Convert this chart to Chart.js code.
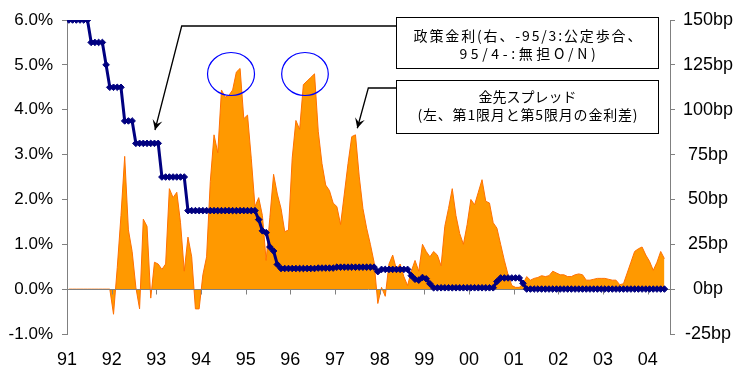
<!DOCTYPE html>
<html>
<head>
<meta charset="utf-8">
<script src="https://cdn.jsdelivr.net/npm/chart.js@4.4.1/dist/chart.umd.min.js"></script>
<style>
  html, body { margin: 0; padding: 0; background: #ffffff; }
  #wrap { width: 735px; height: 369px; }
</style>
</head>
<body>
<div id="wrap"><canvas id="c" width="735" height="369"></canvas></div>
<script>
// Monthly series, January 1991 through May 2004
const START_YEAR = 1991;
const yearTicks = [1991, 1992, 1993, 1994, 1995, 1996, 1997, 1998, 1999, 2000, 2001, 2002, 2003, 2004];
const yearLabels = ['91', '92', '93', '94', '95', '96', '97', '98', '99', '00', '01', '02', '03', '04'];
const leftTicks = [-1, 0, 1, 2, 3, 4, 5, 6];          // %
const rightTicks = [-25, 0, 25, 50, 75, 100, 125, 150]; // bp

// Policy rate (%): official discount rate to 95/3, uncollateralised O/N call rate from 95/4
const policyRate = [
  6.0, 6.0, 6.0, 6.0, 6.0, 6.0, 5.5, 5.5, 5.5, 5.5, 5.0, 4.5,
  4.5, 4.5, 4.5, 3.75, 3.75, 3.75, 3.25, 3.25, 3.25, 3.25, 3.25, 3.25,
  3.25, 2.5, 2.5, 2.5, 2.5, 2.5, 2.5, 2.5, 1.75, 1.75, 1.75, 1.75,
  1.75, 1.75, 1.75, 1.75, 1.75, 1.75, 1.75, 1.75, 1.75, 1.75, 1.75, 1.75,
  1.75, 1.75, 1.75, 1.55, 1.3, 1.26, 0.94, 0.85, 0.55, 0.46, 0.46, 0.46,
  0.46, 0.46, 0.46, 0.46, 0.46, 0.46, 0.46, 0.47, 0.47, 0.47, 0.47, 0.47,
  0.49, 0.49, 0.49, 0.49, 0.49, 0.49, 0.49, 0.49, 0.49, 0.49, 0.49, 0.39,
  0.44, 0.44, 0.44, 0.44, 0.44, 0.44, 0.44, 0.44, 0.3, 0.22, 0.2, 0.26,
  0.23, 0.12, 0.03, 0.03, 0.03, 0.03, 0.03, 0.03, 0.03, 0.03, 0.03, 0.03,
  0.03, 0.03, 0.03, 0.03, 0.03, 0.03, 0.03, 0.17, 0.25, 0.25, 0.25, 0.25,
  0.25, 0.25, 0.13, 0.002, 0.002, 0.002, 0.002, 0.002, 0.002, 0.002, 0.002, 0.002,
  0.002, 0.002, 0.002, 0.002, 0.002, 0.002, 0.002, 0.002, 0.002, 0.002, 0.002, 0.002,
  0.002, 0.002, 0.002, 0.002, 0.002, 0.002, 0.002, 0.002, 0.002, 0.002, 0.002, 0.002,
  0.002, 0.002, 0.002, 0.002, 0.002
];

// Euroyen futures spread, 1st vs 5th contract month (bp)
const futuresSpread = [
  0, 0, 0, 0, 0, 0, 0, 0, 0, 0, 0, 0,
  -14, 12, 41, 74, 33, 21, 1, -11, 39, 35, -5, 15,
  14, 11, 14, 56, 51, 54, 37, 10, 29, 18, -11, -11,
  8, 18, 60, 86, 76, 111, 107, 108, 111, 121, 123, 95,
  97, 73, 46, 51, 41, 16, 40, 64, 53, 45, 32, 33,
  73, 94, 89, 114, 116, 118, 120, 88, 70, 58, 55, 48,
  46, 36, 53, 70, 85, 86, 63, 45, 34, 25, 15, -8,
  1, -4, 14, 19, 11, 14, 7, 2, 10, 16, 10, 25,
  21, 18, 21, 19, 13, 35, 45, 56, 41, 31, 25, 36,
  50, 47, 54, 61, 49, 48, 37, 34, 25, 16, 8, 2,
  1, 1, 3, 7, 5, 6, 6.5, 7.5, 7, 7.5, 10, 9,
  8, 8, 7, 7, 8, 8.5, 8, 5, 5, 5.5, 6, 6,
  6, 5.5, 5, 5, 2.5, 3, 9, 15, 21, 22.5, 23.5, 19,
  15.5, 10.5, 15, 21, 17
];

const monthX = i => START_YEAR + (i + 0.5) / 12;
const policyPoints = policyRate.map((v, i) => ({ x: monthX(i), y: v }));
const spreadPoints = futuresSpread.map((v, i) => ({ x: monthX(i), y: v }));

const TEXT_FONT = '"Liberation Sans", Arial, sans-serif';
const JP_FONT = '"Noto Sans CJK JP", "Noto Sans", sans-serif';
const AXIS_GREY = '#808080';

// Callout boxes, arrows and ellipses, positioned in axis units (x: year, y: % on left axis).
// Each text line has a set width (in years) that it is spread across.
const callouts = {
  boxes: [
    { x0: 1998.366, x1: 2004.231, y0: 6.067, y1: 4.930,
      lines: [{ text: '政策金利(右、-95/3:公定歩合、', y: 5.654, width: 5.10 },
              { text: '95/4-:無担O/N)', y: 5.253, width: 3.05 }] },
    { x0: 1998.366, x1: 2004.231, y0: 4.662, y1: 3.474,
      lines: [{ text: '金先スプレッド', y: 4.283, width: 2.19 },
              { text: '(左、第1限月と第5限月の金利差)', y: 3.893, width: 4.93 }] }
  ],
  arrows: [
    [{ x: 1998.366, y: 5.866 }, { x: 1993.568, y: 5.866 }, { x: 1992.970, y: 3.548 }],
    [{ x: 1998.366, y: 4.484 }, { x: 1997.746, y: 4.484 }, { x: 1997.499, y: 3.586 }]
  ],
  ellipses: [
    { x: 1994.672, y: 4.796, rx: 0.526, ry: 0.479 },
    { x: 1996.328, y: 4.796, rx: 0.522, ry: 0.479 }
  ]
};

// Zero line with year tick marks, drawn between the area and the policy line
const zeroAxisPlugin = {
  id: 'zeroAxis',
  afterDatasetDraw(chart, args) {
    if (args.index !== 1) return;
    const { ctx, chartArea, scales: { x, y } } = chart;
    const y0 = Math.round(y.getPixelForValue(0)) + 0.5;
    ctx.save();
    ctx.strokeStyle = AXIS_GREY;
    ctx.lineWidth = 1;
    ctx.beginPath();
    ctx.moveTo(chartArea.left, y0);
    ctx.lineTo(chartArea.right, y0);
    yearTicks.forEach(t => {
      const px = Math.round(x.getPixelForValue(t)) + 0.5;
      ctx.moveTo(px, y0);
      ctx.lineTo(px, y0 + 5);
    });
    ctx.stroke();
    ctx.restore();
  }
};

// Draws a line of text centred on cx, spreading the characters over the given width
function spreadText(ctx, text, cx, cy, width) {
  const chars = Array.from(text);
  const widths = chars.map(c => ctx.measureText(c).width);
  const natural = widths.reduce((a, b) => a + b, 0);
  const gap = chars.length > 1 ? Math.max(0, (width - natural) / (chars.length - 1)) : 0;
  let xPos = cx - (natural + gap * (chars.length - 1)) / 2;
  ctx.textAlign = 'left';
  chars.forEach((c, i) => {
    ctx.fillText(c, xPos, cy);
    xPos += widths[i] + gap;
  });
}

const calloutPlugin = {
  id: 'callouts',
  afterDraw(chart) {
    const { ctx, scales: { x, y } } = chart;
    const px = v => x.getPixelForValue(v);
    const py = v => y.getPixelForValue(v);
    ctx.save();

    // ellipses around the two peaks
    ctx.strokeStyle = '#0000ff';
    ctx.lineWidth = 1.2;
    callouts.ellipses.forEach(e => {
      const cx = px(e.x), cy = py(e.y);
      const rx = px(e.x + e.rx) - cx, ry = cy - py(e.y + e.ry);
      ctx.beginPath();
      ctx.ellipse(cx, cy, rx, ry, 0, 0, Math.PI * 2);
      ctx.stroke();
    });

    // leader lines with arrowheads
    ctx.strokeStyle = '#000000';
    ctx.fillStyle = '#000000';
    ctx.lineWidth = 1.3;
    callouts.arrows.forEach(path => {
      const pts = path.map(p => ({ x: px(p.x), y: py(p.y) }));
      ctx.beginPath();
      ctx.moveTo(pts[0].x, pts[0].y);
      for (let i = 1; i < pts.length; i++) ctx.lineTo(pts[i].x, pts[i].y);
      ctx.stroke();
      const a = pts[pts.length - 2], b = pts[pts.length - 1];
      const ang = Math.atan2(b.y - a.y, b.x - a.x);
      const len = 10, half = 5;
      const bx = b.x - Math.cos(ang) * len, by = b.y - Math.sin(ang) * len;
      const nx = -Math.sin(ang), ny = Math.cos(ang);
      const mx = b.x - Math.cos(ang) * len * 0.6, my = b.y - Math.sin(ang) * len * 0.6;
      ctx.beginPath();
      ctx.moveTo(b.x, b.y);
      ctx.lineTo(bx + nx * half, by + ny * half);
      ctx.lineTo(mx, my);
      ctx.lineTo(bx - nx * half, by - ny * half);
      ctx.closePath();
      ctx.fill();
    });

    // boxes with text
    callouts.boxes.forEach(bx => {
      const l = Math.round(px(bx.x0)) + 0.5, r = Math.round(px(bx.x1)) + 0.5;
      const t = Math.round(py(bx.y0)) + 0.5, b = Math.round(py(bx.y1)) + 0.5;
      ctx.fillStyle = '#ffffff';
      ctx.fillRect(l, t, r - l, b - t);
      ctx.strokeStyle = '#000000';
      ctx.lineWidth = 1;
      ctx.strokeRect(l, t, r - l, b - t);
      ctx.fillStyle = '#000000';
      ctx.font = '14px ' + JP_FONT;
      ctx.textBaseline = 'middle';
      bx.lines.forEach(line => {
        const w = px(bx.x0 + line.width) - px(bx.x0);
        spreadText(ctx, line.text, (l + r) / 2, py(line.y), w);
      });
    });
    ctx.restore();
  }
};

new Chart(document.getElementById('c'), {
  data: {
    datasets: [
      {
        type: 'line',
        label: '政策金利',
        data: policyPoints,
        yAxisID: 'y',
        order: 0,
        borderColor: '#000080',
        backgroundColor: '#000080',
        borderWidth: 3,
        pointStyle: 'rectRot',
        pointRadius: 3.3,
        pointBorderWidth: 1,
        pointBorderColor: '#000080',
        pointBackgroundColor: '#000080',
        tension: 0,
        fill: false
      },
      {
        type: 'line',
        label: '金先スプレッド',
        data: spreadPoints,
        yAxisID: 'y1',
        order: 1,
        borderColor: '#ff7000',
        backgroundColor: '#ff9900',
        borderWidth: 1,
        pointRadius: 0,
        tension: 0,
        fill: 'origin'
      }
    ]
  },
  options: {
    responsive: false,
    animation: false,
    events: [],
    layout: { padding: { top: 20, left: 0, right: 0, bottom: 0 } },
    plugins: { legend: { display: false }, tooltip: { enabled: false } },
    scales: {
      x: {
        type: 'linear',
        min: START_YEAR,
        max: 2004.5,
        afterBuildTicks: s => { s.ticks = yearTicks.map(v => ({ value: v })); },
        afterFit: s => { s.height = 35; },
        grid: { display: false, drawTicks: false },
        border: { display: false },
        ticks: {
          padding: 15,
          maxRotation: 0,
          autoSkip: false,
          color: '#000000',
          font: { family: TEXT_FONT, size: 18 },
          callback: v => yearLabels[yearTicks.indexOf(v)]
        }
      },
      y: {
        position: 'left',
        min: -1,
        max: 6,
        afterBuildTicks: s => { s.ticks = leftTicks.map(v => ({ value: v })); },
        afterFit: s => { s.width = 67; },
        grid: { drawOnChartArea: false, drawTicks: true, tickLength: 5, color: AXIS_GREY },
        border: { display: true, color: AXIS_GREY },
        ticks: {
          padding: 9,
          color: '#000000',
          font: { family: TEXT_FONT, size: 17 },
          callback: v => v.toFixed(1) + '%'
        }
      },
      y1: {
        position: 'right',
        min: -25,
        max: 150,
        afterBuildTicks: s => { s.ticks = rightTicks.map(v => ({ value: v })); },
        afterFit: s => { s.width = 65; },
        grid: { drawOnChartArea: false, drawTicks: true, tickLength: 5, color: AXIS_GREY },
        border: { display: true, color: AXIS_GREY },
        ticks: {
          padding: 8,
          crossAlign: 'center',
          color: '#000000',
          font: { family: TEXT_FONT, size: 18 },
          callback: v => v + 'bp'
        }
      }
    }
  },
  plugins: [zeroAxisPlugin, calloutPlugin]
});
</script>
</body>
</html>
